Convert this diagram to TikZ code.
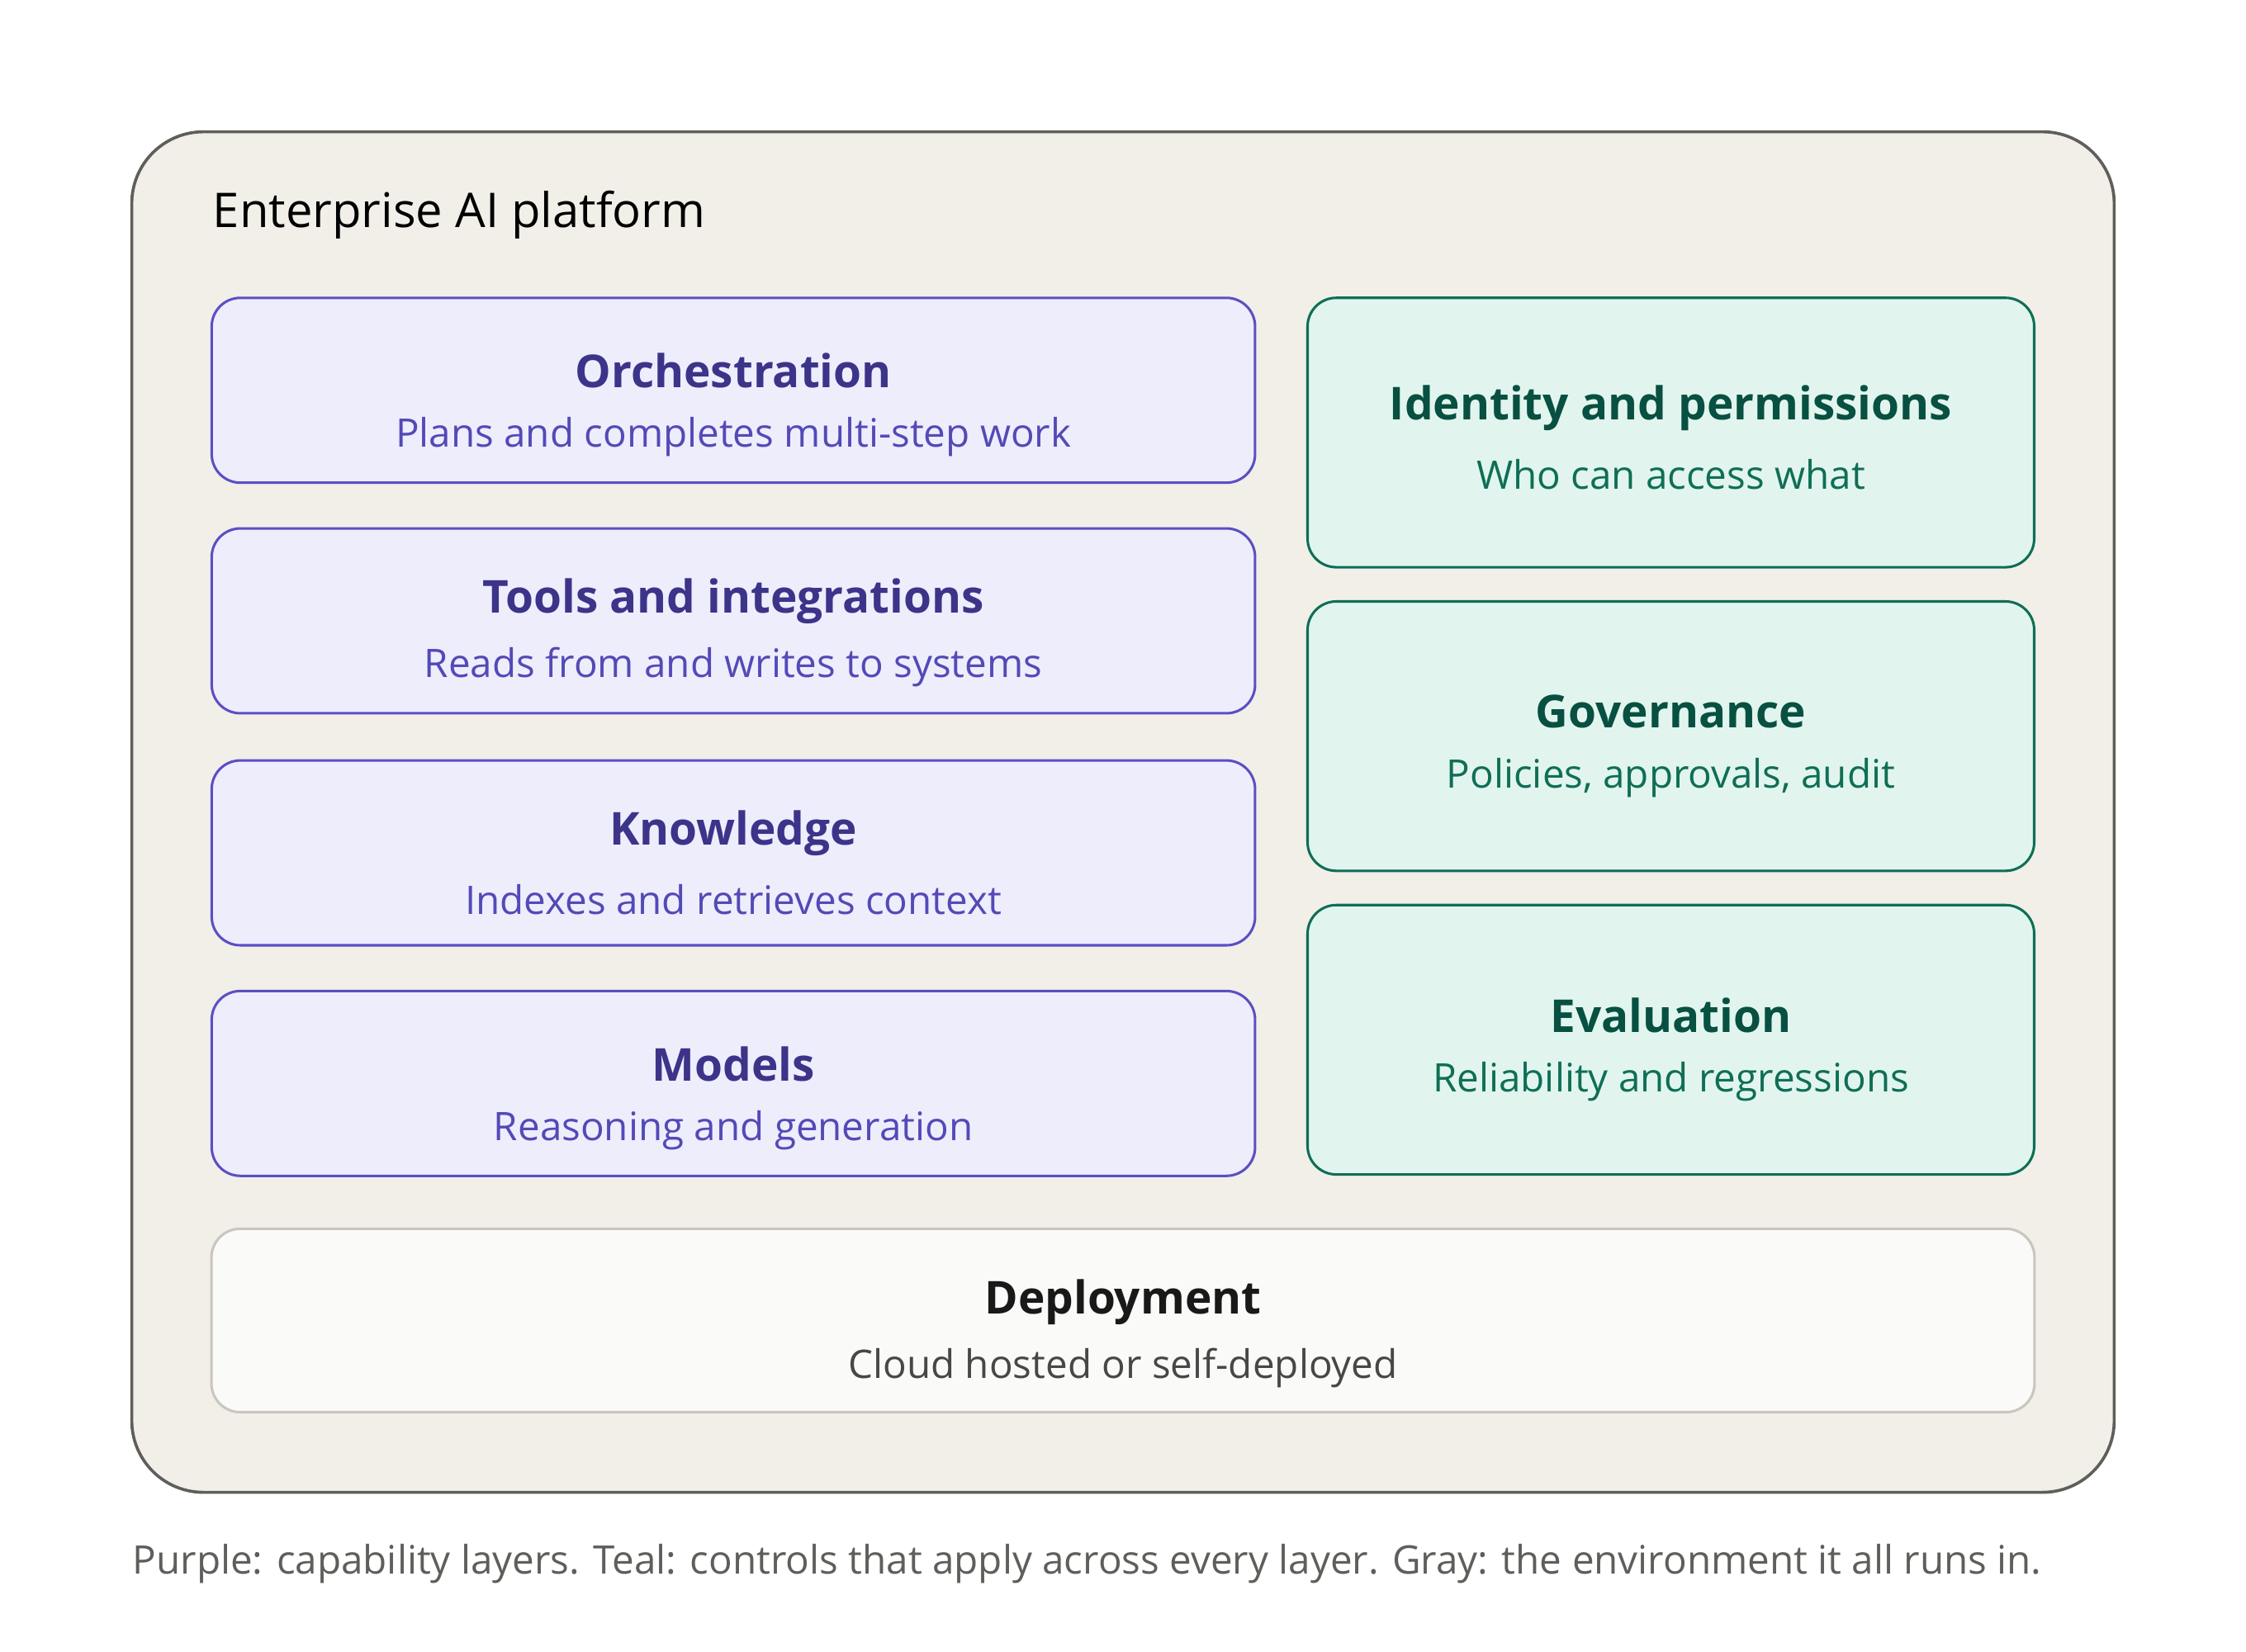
\documentclass[tikz,border=0pt]{standalone}
\usepackage{fontspec}
\setmainfont{Open Sans}
\definecolor{purplefill}{HTML}{EEEDFC}
\definecolor{purpleline}{HTML}{5B4FC4}
\definecolor{purplehead}{HTML}{3C3489}
\definecolor{purplesub}{HTML}{534AB7}
\definecolor{tealfill}{HTML}{E1F5EE}
\definecolor{tealline}{HTML}{0F6E56}
\definecolor{tealhead}{HTML}{085041}
\definecolor{outerfill}{HTML}{F1EFE8}
\definecolor{outerline}{HTML}{5F5E5A}
\definecolor{deployfill}{HTML}{FAFAF8}
\definecolor{deployline}{HTML}{C8C6BE}
\definecolor{captiontext}{HTML}{5F5E5A}
\tikzset{
  layer/.style={draw=purpleline, fill=purplefill, rounded corners=0.2cm, line width=0.5pt,
    minimum width=7.28cm, minimum height=1.29cm, inner sep=0pt},
  control/.style={draw=tealline, fill=tealfill, rounded corners=0.2cm, line width=0.5pt,
    minimum width=5.07cm, minimum height=1.88cm, inner sep=0pt},
  envbox/.style={draw=deployline, fill=deployfill, rounded corners=0.2cm, line width=0.5pt,
    minimum width=12.72cm, minimum height=1.28cm, inner sep=0pt},
  head/.style={font=\fontsize{9}{10}\selectfont\bfseries, inner sep=0pt},
  sub/.style={font=\fontsize{7.8}{9}\selectfont, inner sep=0pt}
}
\begin{document}
\begin{tikzpicture}[x=0.01cm, y=-0.01cm]
    \useasboundingbox (0,0) rectangle (1568,1153);
    % platform frame
    \draw[fill=outerfill, draw=outerline, line width=0.6pt, rounded corners=0.5cm] (92,92) rectangle (1476,1042);
    \node[anchor=west, font=\fontsize{9.5}{11}\selectfont, inner sep=0pt] (platform) at (148,150) {Enterprise AI platform};
    % capability layers
    \foreach \n/\top/\t/\s in {orch/208/Orchestration/Plans and completes multi-step work,
        tools/369/Tools and integrations/Reads from and writes to systems,
        know/531/Knowledge/Indexes and retrieves context,
        models/692/Models/Reasoning and generation} {
      \node[layer] (\n) at (512,\top+64.5) {};
      \node[head, text=purplehead] (\n-head) at (512,\top+51) {\t};
      \node[sub, text=purplesub] (\n-sub) at (512,\top+97) {\s};
    }
    % controls
    \foreach \n/\top/\t/\s in {ident/208/Identity and permissions/Who can access what,
        gov/420/Governance/{Policies, approvals, audit},
        eval/632/Evaluation/Reliability and regressions} {
      \node[control] (\n) at (1166.5,\top+94) {};
      \node[head, text=tealhead] (\n-head) at (1166.5,\top+77) {\t};
      \node[sub, text=tealline] (\n-sub) at (1166.5,\top+123) {\s};
    }
    % environment
    \node[envbox] (deploy) at (784,922) {};
    \node[head, text=black!90] (deploy-head) at (784,909) {Deployment};
    \node[sub, text=black!72] (deploy-sub) at (784,955) {Cloud hosted or self-deployed};
    \node[anchor=west, sub, text=captiontext] (caption) at (92,1092)
      {Purple: capability layers. Teal: controls that apply across every layer. Gray: the environment it all runs in.};
\end{tikzpicture}
\end{document}
